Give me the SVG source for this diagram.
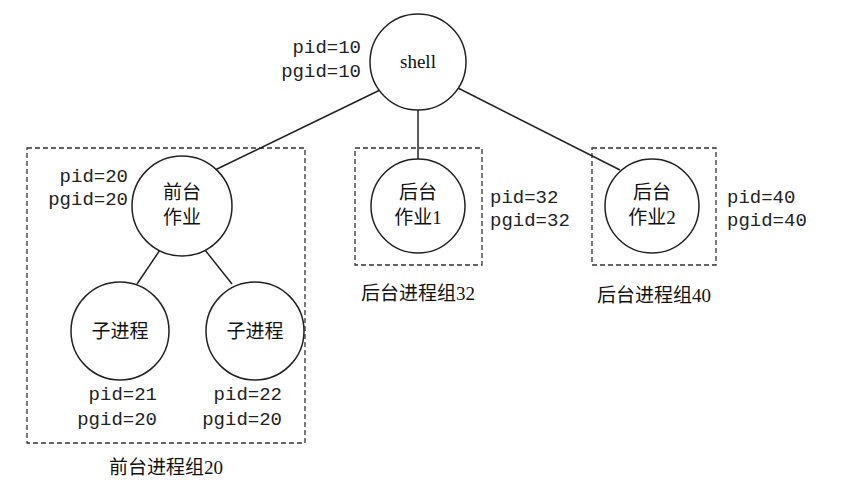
<svg xmlns="http://www.w3.org/2000/svg" width="852" height="491" viewBox="0 0 852 491">
<style>
.n{fill:#fff;stroke:#222;stroke-width:1.5}
.b{fill:none;stroke:#333;stroke-width:1.3;stroke-dasharray:5,3}
.m{font-family:"Liberation Mono",monospace;font-size:19px;fill:#222}
.c{font-family:"Liberation Serif","Noto Sans CJK SC",serif;font-size:19px;fill:#111;text-anchor:middle}
.e{stroke:#222;stroke-width:1.5}
</style>
<rect width="852" height="491" fill="#fff"/>
<g id="boxes">
<rect class="b" x="27" y="148" width="278" height="295"/>
<rect class="b" x="355" y="148" width="127" height="117"/>
<rect class="b" x="592" y="148" width="124" height="117"/>
</g>
<g id="connectors">
<line class="e" x1="380" y1="90" x2="215" y2="170"/>
<line class="e" x1="418" y1="110" x2="418" y2="159"/>
<line class="e" x1="458" y1="88" x2="620" y2="170"/>
<line class="e" x1="160" y1="250" x2="137" y2="284"/>
<line class="e" x1="205" y1="250" x2="232" y2="284"/>
</g>
<g id="shell"><circle class="n" cx="418" cy="62" r="48"/><text class="c" x="418" y="68">shell</text>
<text class="m" x="361" y="53" text-anchor="end">pid=10</text><text class="m" x="361" y="77" text-anchor="end">pgid=10</text></g>
<g id="fg"><circle class="n" cx="182" cy="206" r="50"/><text class="c" x="182" y="199">前台</text><text class="c" x="182" y="224">作业</text>
<text class="m" x="128" y="182" text-anchor="end">pid=20</text><text class="m" x="128" y="205" text-anchor="end">pgid=20</text></g>
<g id="c1"><circle class="n" cx="120" cy="331" r="49"/><text class="c" x="120" y="338">子进程</text>
<text class="m" x="157" y="400" text-anchor="end">pid=21</text><text class="m" x="157" y="425" text-anchor="end">pgid=20</text></g>
<g id="c2"><circle class="n" cx="255" cy="331" r="49"/><text class="c" x="255" y="338">子进程</text>
<text class="m" x="282" y="400" text-anchor="end">pid=22</text><text class="m" x="282" y="425" text-anchor="end">pgid=20</text></g>
<g id="bg1"><circle class="n" cx="418" cy="206" r="47"/><text class="c" x="418" y="199">后台</text><text class="c" x="418" y="224">作业1</text>
<text class="m" x="490" y="203">pid=32</text><text class="m" x="490" y="226">pgid=32</text></g>
<g id="bg2"><circle class="n" cx="652" cy="206" r="47"/><text class="c" x="652" y="199">后台</text><text class="c" x="652" y="224">作业2</text>
<text class="m" x="727" y="203">pid=40</text><text class="m" x="727" y="226">pgid=40</text></g>
<g id="labels">
<text class="c" x="418" y="300">后台进程组32</text>
<text class="c" x="654" y="302">后台进程组40</text>
<text class="c" x="166" y="474">前台进程组20</text>
</g>
</svg>
